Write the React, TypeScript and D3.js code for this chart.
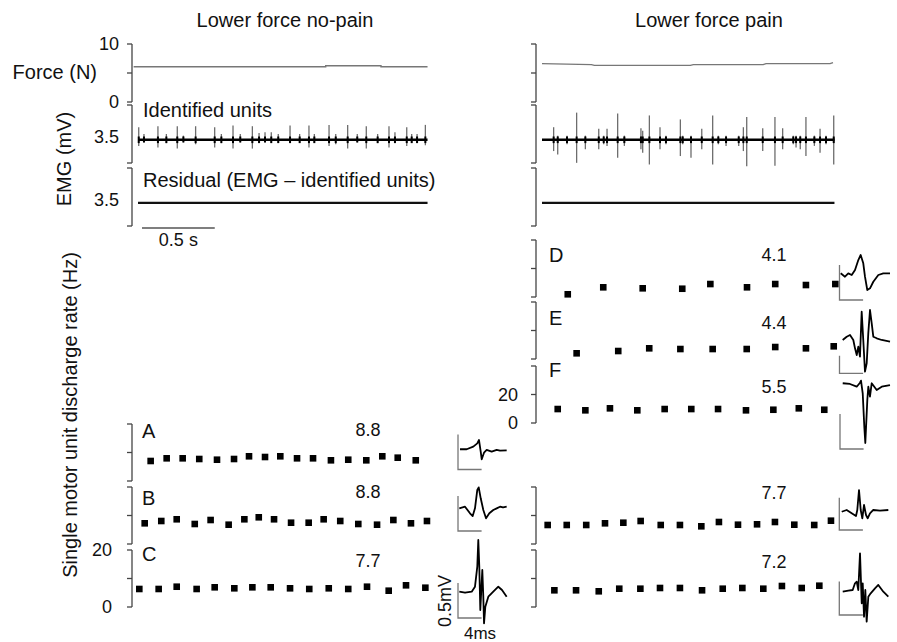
import React from "react";
import * as d3 from "d3";

// ---------------- DATA ----------------
const columnTitles = ["Lower force no-pain", "Lower force pain"];
const forceTickValues = [0, 5, 10];
const forceTickLabels = ["0", "", "10"];
const forceLabel = "Force (N)";
const emgLabel = "EMG (mV)";
const emgRangeLabel = "3.5";
const identifiedLabel = "Identified units";
const residualLabel = "Residual (EMG \u2013 identified units)";
const timeBarSeconds = 0.5;
const timeBarLabel = "0.5 s";
const rateAxisLabel = "Single motor unit discharge rate (Hz)";
const waveBarMs = 4;
const waveBarLabelMs = "4ms";
const waveBarLabelMv = "0.5mV";

// force traces [time s, force N]
const forceNoPain: [number, number][] = [
  [-0.03, 6.09], [1.29, 6.09], [1.29, 6.26], [1.67, 6.26], [1.67, 6.09], [1.99, 6.09],
];
const forcePain: [number, number][] = [
  [0, 6.61], [0.34, 6.44], [0.36, 6.32], [1.02, 6.32], [1.04, 6.44], [1.52, 6.44],
  [1.54, 6.61], [1.98, 6.61], [2.0, 6.79],
];

// EMG spikes [time s, upward mV, downward mV]
const spikesNoPain: [number, number, number][] = [
  [0.005, 0.76, 0.37], [0.041, 0.35, 0.16], [0.137, 0.82, 0.47], [0.195, 0.35, 0.2],
  [0.27, 0.82, 0.53], [0.312, 0.25, 0.16], [0.396, 0.82, 0.27], [0.527, 0.76, 0.47],
  [0.573, 0.35, 0.2], [0.653, 0.86, 0.53], [0.703, 0.35, 0.16], [0.786, 0.82, 0.53],
  [0.832, 0.41, 0.2], [0.873, 0.45, 0.16], [0.916, 0.45, 0.2], [0.964, 0.35, 0.2],
  [1.045, 0.86, 0.2], [1.111, 0.35, 0.2], [1.175, 0.86, 0.47], [1.212, 0.35, 0.2],
  [1.313, 0.9, 0.37], [1.359, 0.35, 0.27], [1.441, 0.9, 0.53], [1.507, 0.35, 0.16],
  [1.569, 0.82, 0.53], [1.647, 0.35, 0.2], [1.725, 0.82, 0.47], [1.766, 0.45, 0.2],
  [1.847, 0.76, 0.37], [1.881, 0.35, 0.2], [1.918, 0.35, 0.2], [1.975, 0.9, 0.33],
];
const spikesPain: [number, number, number][] = [
  [0.08, 0.76, 0.68], [0.108, 0.25, 0.88], [0.172, 0.25, 0.27], [0.238, 1.64, 1.39],
  [0.298, 0.25, 0.57], [0.39, 0.66, 0.57], [0.424, 0.25, 0.27], [0.447, 0.66, 0.37],
  [0.52, 1.58, 1.09], [0.566, 0.25, 0.37], [0.68, 0.7, 0.57], [0.692, 0.55, 0.78],
  [0.738, 1.47, 1.49], [0.811, 0.76, 0.57], [0.852, 0.25, 0.27], [0.951, 1.23, 0.98],
  [0.967, 0.25, 0.27], [1.024, 0.25, 1.09], [1.098, 0.66, 0.57], [1.173, 1.47, 1.49],
  [1.212, 0.25, 0.27], [1.265, 0.25, 0.37], [1.352, 0.25, 0.37], [1.384, 0.76, 0.68],
  [1.407, 1.37, 1.6], [1.517, 0.7, 0.68], [1.601, 1.37, 1.56], [1.654, 0.7, 0.57],
  [1.727, 0.25, 0.27], [1.746, 0.25, 0.47], [1.775, 0.25, 0.57], [1.814, 1.37, 0.98],
  [1.872, 0.25, 0.37], [1.911, 0.66, 0.78], [1.952, 0.25, 0.27], [2.005, 1.47, 1.49],
];
const traceEnd = [1.99, 2.01];

// discharge rates [time s, Hz]
const unitLetters = ["A", "B", "C", "D", "E", "F", "", ""];
const unitMeans = ["8.8", "8.8", "7.7", "4.1", "4.4", "5.5", "7.7", "7.2"];
const unitA: [number, number][] = [
  [0.087, 7.02], [0.197, 7.96], [0.307, 7.96], [0.421, 7.72], [0.543, 7.47], [0.66, 7.72],
  [0.763, 8.67], [0.873, 8.42], [0.978, 8.67], [1.093, 7.96], [1.203, 7.96], [1.326, 7.26],
  [1.445, 7.47], [1.569, 7.26], [1.679, 8.67], [1.785, 8.18], [1.909, 7.26],
];
const unitB: [number, number][] = [
  [0.046, 7.26], [0.16, 8.07], [0.266, 8.67], [0.39, 7.02], [0.499, 8.42], [0.623, 6.77],
  [0.731, 8.67], [0.83, 9.37], [0.935, 8.67], [1.052, 7.47], [1.173, 7.47], [1.276, 8.67],
  [1.39, 8.07], [1.514, 7.02], [1.643, 6.77], [1.755, 8.42], [1.876, 7.26], [1.986, 8.07],
];
const unitC: [number, number][] = [
  [0.009, 6.32], [0.142, 6.32], [0.266, 7.12], [0.403, 6.32], [0.527, 6.91], [0.662, 6.56],
  [0.786, 6.91], [0.912, 6.91], [1.045, 6.56], [1.177, 6.32], [1.311, 6.56], [1.445, 6.32],
  [1.574, 7.12], [1.723, 5.72], [1.842, 7.61], [1.975, 6.77],
];
const unitD: [number, number][] = [
  [0.177, 1.9], [0.421, 6.8], [0.692, 6.1], [0.964, 5.8], [1.157, 9.1], [1.409, 6.8],
  [1.603, 9.1], [1.814, 8.4], [2.016, 9.1],
];
const unitE: [number, number][] = [
  [0.238, 4.0], [0.524, 5.6], [0.737, 7.5], [0.951, 7.0], [1.173, 7.0], [1.407, 7.0],
  [1.603, 8.4], [1.814, 7.5], [2.005, 8.9],
];
const unitF: [number, number][] = [
  [0.108, 9.8], [0.298, 8.9], [0.467, 10.3], [0.655, 8.9], [0.843, 9.8], [1.026, 9.8],
  [1.21, 9.8], [1.402, 8.9], [1.59, 9.3], [1.765, 10.3], [1.94, 9.3],
];
const unitG: [number, number][] = [
  [0.039, 6.67], [0.17, 6.67], [0.304, 6.67], [0.433, 7.26], [0.559, 7.47], [0.678, 8.07],
  [0.816, 6.67], [0.948, 6.67], [1.095, 6.21], [1.216, 7.72], [1.347, 6.77], [1.478, 6.91],
  [1.601, 7.72], [1.734, 6.77], [1.871, 6.67], [1.986, 8.18],
];
const unitH: [number, number][] = [
  [0.085, 5.86], [0.234, 5.86], [0.39, 5.51], [0.531, 6.42], [0.676, 6.42], [0.811, 6.67],
  [0.948, 6.67], [1.1, 5.86], [1.242, 6.42], [1.377, 6.67], [1.521, 6.42], [1.649, 7.37],
  [1.785, 6.67], [1.906, 7.47],
];
const unitRates = [unitA, unitB, unitC, unitD, unitE, unitF, unitG, unitH];
const rateTickValues = [0, 20];
const rateTickLabels = ["0", "20"];

// MUAP templates [ms, mV] (relative to scale-bar corner)
const waveA: [number, number][] = [
  [0.34, 0.289], [1.47, 0.289], [2.59, 0.326], [3.27, 0.374], [3.56, 0.421], [3.85, 0.254],
  [4.02, 0.146], [4.41, 0.24], [4.86, 0.279], [5.71, 0.254], [6.56, 0.279], [7.12, 0.269], [8.25, 0.274],
];
const waveB: [number, number][] = [
  [0.22, 0.324], [1.19, 0.347], [2.03, 0.253], [2.49, 0.214], [2.88, 0.324], [3.27, 0.586],
  [3.51, 0.624], [3.85, 0.467], [4.29, 0.3], [4.75, 0.181], [5.31, 0.253], [5.98, 0.3],
  [6.56, 0.324], [7.12, 0.347], [7.63, 0.336], [8.25, 0.347],
];
const waveC: [number, number][] = [
  [0.22, 0.376], [1.19, 0.361], [2.32, 0.376], [2.88, 0.447], [3.27, 0.733], [3.44, 1.114],
  [3.61, 0.733], [3.78, 0.114], [3.95, 0.4], [4.12, 0.686], [4.29, 0.304], [4.41, -0.076],
  [4.63, 0.161], [5.14, 0.304], [5.98, 0.376], [6.83, 0.447], [7.46, 0.4], [8.25, 0.304],
];
const waveD: [number, number][] = [
  [0.2, 0.381], [0.93, 0.333], [1.49, 0.381], [2.07, 0.357], [2.63, 0.429], [3.19, 0.571],
  [3.59, 0.643], [4.03, 0.524], [4.32, 0.333], [4.71, 0.143], [5.17, 0.167], [5.73, 0.261],
  [6.58, 0.357], [7.42, 0.381], [8.56, 0.381],
];
const waveE: [number, number][] = [
  [0.54, 0.476], [1.22, 0.523], [1.78, 0.547], [2.34, 0.476], [2.63, 0.357], [2.92, 0.261],
  [3.19, 0.38], [3.47, 0.237], [3.76, 0.88], [4.03, 0.476], [4.32, 0.023], [4.61, 0.143],
  [4.88, 0.571], [5.17, 0.904], [5.46, 0.714], [5.73, 0.523], [6.31, 0.5], [7.15, 0.476], [8.56, 0.451],
];
const waveF: [number, number][] = [
  [0.46, 0.939], [1.69, 0.929], [2.83, 0.89], [3.39, 0.947], [3.56, 0.976], [3.85, 0.796],
  [4.12, 0.319], [4.29, 0.086], [4.63, 0.7], [4.8, 0.89], [5.08, 0.747], [5.37, 0.939],
  [6.22, 0.843], [7.07, 0.89], [8.47, 0.914],
];
const waveG: [number, number][] = [
  [0.41, 0.261], [1.25, 0.286], [2.1, 0.239], [2.83, 0.2], [3.05, 0.286], [3.34, 0.571],
  [3.63, 0.286], [3.9, 0.167], [4.19, 0.357], [4.53, 0.214], [4.81, 0.167], [5.2, 0.239],
  [5.76, 0.286], [6.9, 0.276], [8.31, 0.286],
];
const waveH: [number, number][] = [
  [0.58, 0.333], [1.53, 0.347], [2.27, 0.357], [2.66, 0.453], [2.95, 0.476], [3.22, 0.357],
  [3.51, 0.881], [3.8, 0.167], [3.97, 0.453], [4.19, -0.024], [4.41, 0.357], [4.64, -0.096],
  [4.92, 0.261], [5.32, 0.31], [6.05, 0.381], [6.61, 0.429], [7.46, 0.333], [8.31, 0.261],
];
const waveforms = [waveA, waveB, waveC, waveD, waveE, waveF, waveG, waveH];
const waveBarMv = [0.5, 0.5, 0.5, 0.5, 0.25, 0.5, 0.46, 0.48];

// ---------------- LAYOUT ----------------
const W = 897;
const H = 642;
const FONT = "'Liberation Sans', Arial, Helvetica, sans-serif";
const TXT = "#111";
const AXC = "#444";
const PX_PER_S = 145.5;
const COLS = [
  { axisX: 132, traceX: 138 },
  { axisX: 536, traceX: 542 },
];
const FORCE_BOX = { top: 44, bottom: 102 };
const EMG_BOX = { top: 105, bottom: 163 };
const RES_BOX = { top: 168, bottom: 226 };
const EMG_DOMAIN = [-1.4, 2.1];
const PANEL_H = 57;
const ratePanels = [
  { col: 0, top: 424, yMax: 20, letterY: 431, meanY: 430 },
  { col: 0, top: 487, yMax: 20, letterY: 498, meanY: 492 },
  { col: 0, top: 550, yMax: 20, letterY: 554, meanY: 561 },
  { col: 1, top: 240, yMax: 40, letterY: 255, meanY: 255 },
  { col: 1, top: 302, yMax: 40, letterY: 318, meanY: 323 },
  { col: 1, top: 366, yMax: 40, letterY: 370, meanY: 387 },
  { col: 1, top: 487, yMax: 20, letterY: 498, meanY: 493 },
  { col: 1, top: 550, yMax: 20, letterY: 554, meanY: 562 },
];
const rateTickPanels = [2, 5];
const rateTickLabelX = [112, 518];
const letterX = [142, 549];
const meanX = [368, 774];
const waveCorners = [
  [458, 469.5], [458, 531], [458, 618],
  [839.5, 300], [839.5, 373.3], [840, 449],
  [839.3, 530], [839.3, 615],
];
const PX_PER_MS = 5.9;
const PX_PER_MV = 70;

function Bracket({ x, top, bottom, ticks }: { x: number; top: number; bottom: number; ticks: number[] }) {
  return (
    <g stroke={AXC} strokeWidth={1.3} fill="none">
      <line x1={x} x2={x} y1={top} y2={bottom} />
      {ticks.map((y, i) => (
        <line key={i} x1={x - 5} x2={x} y1={y} y2={y} />
      ))}
    </g>
  );
}

export default function App() {
  const tScales = COLS.map((c) =>
    d3.scaleLinear().domain([0, 2]).range([c.traceX, c.traceX + 2 * PX_PER_S])
  );
  const forceY = d3.scaleLinear().domain([0, 10]).range([FORCE_BOX.bottom, FORCE_BOX.top]);
  const emgY = d3.scaleLinear().domain(EMG_DOMAIN).range([EMG_BOX.bottom, EMG_BOX.top]);
  const resY = d3.scaleLinear().domain(EMG_DOMAIN).range([RES_BOX.bottom, RES_BOX.top]);

  const forces = [forceNoPain, forcePain];
  const spikes = [spikesNoPain, spikesPain];

  return (
    <svg
      width={W}
      height={H}
      viewBox={`0 0 ${W} ${H}`}
      style={{ position: "absolute", left: 0, top: 0, background: "#fff" }}
      fontFamily={FONT}
    >
      <rect x={0} y={0} width={W} height={H} fill="#fff" />
      {/* Column titles */}
      <text x={285} y={27} textAnchor="middle" fontSize={20} fill={TXT}>{columnTitles[0]}</text>
      <text x={709} y={27} textAnchor="middle" fontSize={20} fill={TXT}>{columnTitles[1]}</text>

      {COLS.map((c, ci) => {
        const tx = tScales[ci];
        const fLine = d3.line<[number, number]>().x((d) => tx(d[0])).y((d) => forceY(d[1]));
        return (
          <g key={ci}>
            {/* force */}
            <Bracket x={c.axisX} top={FORCE_BOX.top} bottom={FORCE_BOX.bottom} ticks={forceTickValues.map((v) => forceY(v))} />
            <path d={fLine(forces[ci]) || ""} fill="none" stroke="#777" strokeWidth={1.4} />
            {/* EMG */}
            <Bracket x={c.axisX} top={EMG_BOX.top} bottom={EMG_BOX.bottom} ticks={[EMG_BOX.top, EMG_BOX.bottom]} />
            <g stroke="#6d6d6d" strokeWidth={1.3}>
              {spikes[ci].map((s, i) => (
                <line key={i} x1={tx(s[0])} x2={tx(s[0])} y1={emgY(s[1])} y2={emgY(-s[2])} />
              ))}
            </g>
            <g stroke="#000" strokeWidth={2}>
              {spikes[ci].map((s, i) => (
                <line key={i} x1={tx(s[0])} x2={tx(s[0])} y1={emgY(Math.min(s[1], 0.2))} y2={emgY(-Math.min(s[2], 0.2))} />
              ))}
            </g>
            <line x1={tx(0)} x2={tx(traceEnd[ci])} y1={emgY(0)} y2={emgY(0)} stroke="#000" strokeWidth={2.6} />
            {/* residual */}
            <Bracket x={c.axisX} top={RES_BOX.top} bottom={RES_BOX.bottom} ticks={[RES_BOX.top, RES_BOX.bottom]} />
            <line x1={tx(0)} x2={tx(traceEnd[ci])} y1={resY(0)} y2={resY(0)} stroke="#111" strokeWidth={2.2} />
          </g>
        );
      })}

      {/* left column labels for top panels */}
      <g fontSize={18} fill={TXT} textAnchor="end">
        {forceTickValues.map((v, i) =>
          forceTickLabels[i] ? (
            <text key={i} x={119} y={forceY(v)} dy="0.35em">{forceTickLabels[i]}</text>
          ) : null
        )}
        <text x={119} y={emgY(0)} dy="0.2em">{emgRangeLabel}</text>
        <text x={119} y={resY(0)} dy="0.2em">{emgRangeLabel}</text>
      </g>
      <text x={97} y={forceY(5)} dy="0.3em" textAnchor="end" fontSize={20} fill={TXT}>{forceLabel}</text>
      <text x={143} y={110} dy="0.35em" fontSize={20} fill={TXT}>{identifiedLabel}</text>
      <text x={143} y={180} dy="0.35em" fontSize={20} fill={TXT}>{residualLabel}</text>
      <text transform={`translate(64,159) rotate(-90)`} textAnchor="middle" dy="0.35em" fontSize={20} fill={TXT}>{emgLabel}</text>

      {/* time scale bar */}
      <line x1={142} x2={142 + timeBarSeconds * PX_PER_S} y1={228} y2={228} stroke="#555" strokeWidth={1.3} />
      <text x={142 + (timeBarSeconds * PX_PER_S) / 2} y={240} dy="0.35em" textAnchor="middle" fontSize={18} fill={TXT}>{timeBarLabel}</text>

      {/* rate axis label */}
      <text transform={`translate(70,415) rotate(-90)`} textAnchor="middle" dy="0.35em" fontSize={20} fill={TXT}>{rateAxisLabel}</text>

      {/* discharge rate panels */}
      {ratePanels.map((p, i) => {
        const c = COLS[p.col];
        const tx = tScales[p.col];
        const y = d3.scaleLinear().domain([0, p.yMax]).range([p.top + PANEL_H, p.top]);
        const showTicks = rateTickPanels.indexOf(i) >= 0;
        return (
          <g key={i}>
            <Bracket x={c.axisX} top={p.top} bottom={p.top + PANEL_H} ticks={[y(0), y(p.yMax / 2), y(p.yMax)]} />
            {unitRates[i].map((d, j) => (
              <rect key={j} x={tx(d[0]) - 3.3} y={y(d[1]) - 3.3} width={6.6} height={6.6} fill="#000" />
            ))}
            {unitLetters[i] ? (
              <text x={letterX[p.col]} y={p.letterY} dy="0.35em" fontSize={20} fill={TXT}>{unitLetters[i]}</text>
            ) : null}
            <text x={meanX[p.col]} y={p.meanY} dy="0.35em" textAnchor="middle" fontSize={18} fill={TXT}>{unitMeans[i]}</text>
            {showTicks
              ? rateTickValues.map((v, k) => (
                  <text key={k} x={rateTickLabelX[p.col]} y={y(v)} dy="0.35em" textAnchor="end" fontSize={18} fill={TXT}>
                    {rateTickLabels[k]}
                  </text>
                ))
              : null}
          </g>
        );
      })}

      {/* MUAP templates */}
      {waveforms.map((w, i) => {
        const [cx, cy] = waveCorners[i];
        const wx = d3.scaleLinear().domain([0, 1]).range([cx, cx + PX_PER_MS]);
        const wy = d3.scaleLinear().domain([0, 1]).range([cy, cy - PX_PER_MV]);
        const line = d3.line<[number, number]>().x((d) => wx(d[0])).y((d) => wy(d[1]));
        return (
          <g key={i}>
            <path
              d={`M${wx(0)},${wy(waveBarMv[i])}L${wx(0)},${wy(0)}L${wx(waveBarMs)},${wy(0)}`}
              fill="none"
              stroke="#777"
              strokeWidth={1.3}
            />
            <path d={line(w) || ""} fill="none" stroke="#000" strokeWidth={1.8} strokeLinejoin="round" />
          </g>
        );
      })}
      <text transform={`translate(445,601) rotate(-90)`} textAnchor="middle" dy="0.35em" fontSize={18} fill={TXT}>{waveBarLabelMv}</text>
      <text x={480} y={633} dy="0.35em" textAnchor="middle" fontSize={17} fill={TXT}>{waveBarLabelMs}</text>
    </svg>
  );
}
